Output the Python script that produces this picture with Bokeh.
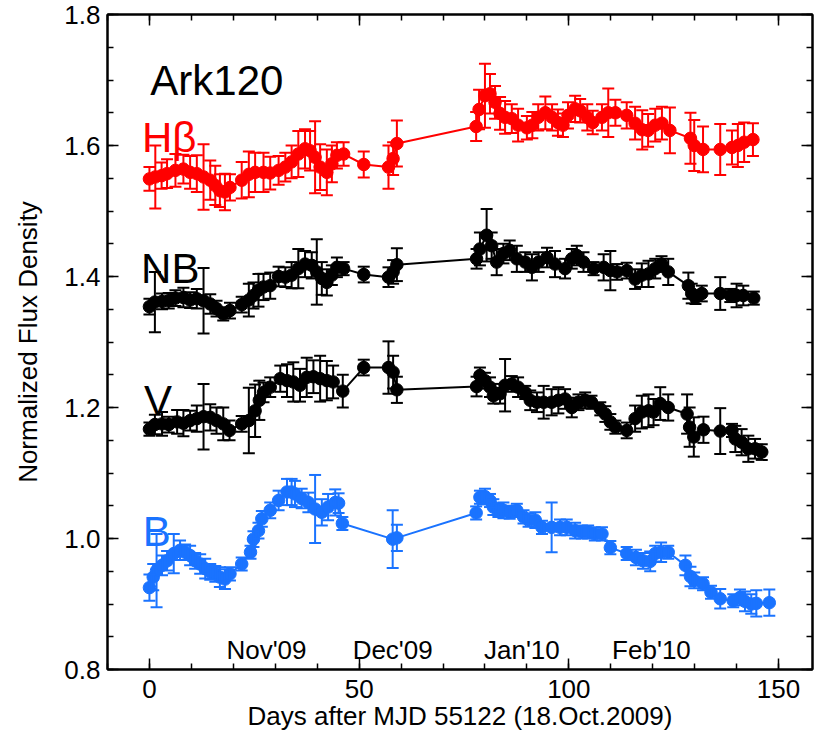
import numpy as np
from bokeh.plotting import figure
from bokeh.models import (ColumnDataSource, Whisker, TeeHead, LinearAxis,
                          SingleIntervalTicker, Range1d, PrintfTickFormatter,
                          CustomJSTickFormatter)
from bokeh.core.properties import value
from bokeh.embed import file_html
from bokeh.resources import INLINE

# ---------------- data ----------------
hb_day = [0.0, 1.4, 2.9, 4.2, 6.2, 8.1, 9.7, 11.3, 12.9, 14.5, 15.7, 16.8, 18.0, 19.2,
          22.0, 23.7, 25.2, 27.2, 28.8, 30.8, 32.4, 33.9, 35.5, 37.1, 38.3, 39.5, 40.7,
          42.3, 43.5, 44.7, 46.3, 51.1, 57.0, 58.1, 59.0,
          77.9, 78.6, 80.0, 81.2, 82.4, 83.6, 84.8, 86.4, 87.9, 90.0, 91.3, 92.7, 94.4,
          96.0, 97.4, 98.6, 99.8, 101.5, 102.7, 104.4, 105.7, 107.9, 109.4, 111.1,
          113.8, 115.8, 117.5, 118.9, 120.6, 122.2, 124.1, 129.0, 129.9, 132.0, 136.1,
          138.9, 140.3, 141.8, 143.9]
hb_flux = [1.549, 1.552, 1.554, 1.557, 1.562, 1.564, 1.559, 1.557, 1.552, 1.547, 1.539,
           1.531, 1.529, 1.536, 1.547, 1.556, 1.559, 1.559, 1.558, 1.562, 1.567, 1.575,
           1.587, 1.595, 1.592, 1.582, 1.567, 1.559, 1.572, 1.585, 1.587, 1.571, 1.567,
           1.580, 1.603,
           1.629, 1.655, 1.676, 1.679, 1.666, 1.649, 1.643, 1.641, 1.631, 1.627, 1.631,
           1.643, 1.650, 1.643, 1.635, 1.631, 1.646, 1.656, 1.653, 1.643, 1.635, 1.643,
           1.650, 1.650, 1.646, 1.634, 1.624, 1.623, 1.631, 1.634, 1.623, 1.611, 1.600,
           1.594, 1.594, 1.597, 1.600, 1.605, 1.609]
hb_err = [0.018, 0.048, 0.020, 0.022, 0.025, 0.022, 0.025, 0.028, 0.050, 0.030, 0.030,
          0.025, 0.028, 0.020, 0.028, 0.035, 0.030, 0.030, 0.025, 0.022, 0.022, 0.025,
          0.035, 0.030, 0.030, 0.055, 0.035, 0.035, 0.028, 0.020, 0.018, 0.020, 0.033,
          0.025, 0.035,
          0.022, 0.030, 0.049, 0.030, 0.025, 0.025, 0.025, 0.022, 0.025, 0.018, 0.020,
          0.020, 0.025, 0.020, 0.020, 0.018, 0.020, 0.020, 0.018, 0.020, 0.018, 0.020,
          0.037, 0.020, 0.020, 0.025, 0.030, 0.025, 0.025, 0.025, 0.035, 0.039, 0.039,
          0.035, 0.039, 0.026, 0.033, 0.030, 0.025]

nb_day = [0.0, 1.3, 3.0, 4.6, 6.2, 8.1, 9.7, 11.3, 12.9, 14.5, 16.0, 17.6, 19.2, 22.0,
          23.7, 24.8, 26.0, 27.2, 28.8, 30.8, 32.4, 33.9, 35.5, 37.1, 38.7, 39.9, 41.1,
          42.3, 43.5, 44.7, 46.3, 51.1, 57.0, 58.1, 59.0,
          78.0, 78.8, 80.4, 81.6, 82.8, 84.4, 85.9, 87.6, 89.6, 91.2, 92.8, 94.8, 96.7,
          99.1, 100.7, 101.9, 103.5, 105.9, 108.3, 109.9, 111.5, 113.8, 115.8, 117.4,
          119.0, 120.6, 122.1, 123.7, 128.5, 129.3, 130.2, 131.7, 136.1, 138.5, 140.0,
          141.6, 144.1]
nb_flux = [1.354, 1.361, 1.362, 1.363, 1.367, 1.368, 1.364, 1.366, 1.363, 1.358, 1.351,
           1.343, 1.348, 1.357, 1.364, 1.371, 1.379, 1.384, 1.386, 1.400, 1.399, 1.402,
           1.412, 1.419, 1.417, 1.407, 1.397, 1.391, 1.402, 1.414, 1.412, 1.403, 1.399,
           1.407, 1.418,
           1.427, 1.442, 1.463, 1.447, 1.422, 1.435, 1.440, 1.427, 1.422, 1.414, 1.422,
           1.429, 1.419, 1.412, 1.427, 1.432, 1.422, 1.412, 1.414, 1.409, 1.407, 1.409,
           1.396, 1.402, 1.404, 1.412, 1.419, 1.407, 1.386, 1.374, 1.368, 1.374, 1.374,
           1.371, 1.371, 1.371, 1.367]
nb_err = [0.012, 0.046, 0.012, 0.012, 0.012, 0.015, 0.012, 0.015, 0.050, 0.015, 0.012,
          0.010, 0.012, 0.012, 0.025, 0.020, 0.025, 0.020, 0.020, 0.015, 0.015, 0.020,
          0.030, 0.020, 0.020, 0.050, 0.025, 0.020, 0.015, 0.015, 0.010, 0.012, 0.015,
          0.018, 0.025,
          0.015, 0.025, 0.040, 0.020, 0.020, 0.015, 0.015, 0.020, 0.015, 0.020, 0.015,
          0.015, 0.020, 0.015, 0.015, 0.015, 0.015, 0.010, 0.020, 0.030, 0.012, 0.012,
          0.015, 0.018, 0.020, 0.015, 0.012, 0.020, 0.020, 0.015, 0.010, 0.012, 0.025,
          0.010, 0.018, 0.015, 0.010]

v_day = [0.0, 1.3, 3.0, 4.6, 6.6, 8.1, 9.7, 11.3, 12.9, 14.5, 16.0, 17.6, 19.1, 22.0,
         23.7, 25.2, 26.2, 27.2, 28.8, 31.2, 32.8, 34.3, 35.9, 37.5, 39.1, 40.7, 42.3,
         43.8, 46.1, 51.1, 57.0, 58.1, 59.0,
         78.0, 78.8, 80.0, 81.2, 82.0, 83.6, 84.8, 86.4, 87.9, 89.6, 90.8, 92.4, 94.0,
         95.9, 97.5, 99.1, 100.7, 102.3, 103.9, 105.4, 107.5, 108.7, 109.9, 111.1,
         113.8, 115.8, 117.4, 119.0, 120.2, 121.8, 123.7, 128.2, 128.8, 129.8, 132.1,
         136.1, 138.9, 139.7, 141.2, 142.8, 144.4, 146.0]
v_flux = [1.167, 1.174, 1.175, 1.174, 1.178, 1.176, 1.180, 1.183, 1.186, 1.185, 1.180,
          1.175, 1.165, 1.175, 1.180, 1.195, 1.211, 1.223, 1.231, 1.244, 1.241, 1.239,
          1.234, 1.246, 1.247, 1.244, 1.241, 1.239, 1.225, 1.261, 1.261, 1.254, 1.227,
          1.232, 1.249, 1.241, 1.231, 1.218, 1.221, 1.234, 1.236, 1.231, 1.223, 1.211,
          1.208, 1.208, 1.208, 1.211, 1.213, 1.200, 1.208, 1.211, 1.208, 1.198, 1.190,
          1.178, 1.170, 1.165, 1.183, 1.193, 1.195, 1.193, 1.206, 1.200, 1.190, 1.170,
          1.155, 1.166, 1.164, 1.165, 1.152, 1.147, 1.137, 1.137, 1.132]
v_err = [0.010, 0.015, 0.018, 0.012, 0.018, 0.020, 0.015, 0.020, 0.050, 0.020, 0.020,
         0.025, 0.015, 0.012, 0.050, 0.040, 0.030, 0.015, 0.015, 0.020, 0.025, 0.030,
         0.025, 0.030, 0.025, 0.035, 0.030, 0.025, 0.025, 0.012, 0.040, 0.025, 0.020,
         0.015, 0.012, 0.012, 0.015, 0.012, 0.015, 0.040, 0.012, 0.015, 0.010, 0.015,
         0.015, 0.025, 0.020, 0.020, 0.015, 0.015, 0.012, 0.012, 0.010, 0.010, 0.012,
         0.012, 0.010, 0.012, 0.020, 0.025, 0.025, 0.020, 0.025, 0.020, 0.030, 0.030,
         0.030, 0.020, 0.035, 0.010, 0.020, 0.020, 0.020, 0.015, 0.012]

b_day = [0.0, 0.9, 1.7, 3.0, 4.2, 5.8, 7.3, 8.5, 9.7, 10.9, 12.1, 13.3, 14.5, 15.7, 16.8,
         18.0, 19.2, 22.0, 24.1, 24.8, 26.0, 26.8, 28.8, 30.8, 32.8, 33.9, 34.7, 36.3,
         37.9, 39.5, 41.1, 42.6, 44.3, 45.1, 46.0, 58.0, 59.0,
         77.9, 78.8, 80.0, 81.2, 82.0, 83.2, 84.4, 85.9, 87.6, 89.2, 90.4, 92.0, 93.6,
         95.9, 97.9, 99.5, 101.5, 103.1, 104.6, 106.2, 107.9, 109.9, 113.8, 116.0,
         117.7, 119.4, 120.6, 122.0, 123.7, 127.8, 129.0, 129.9, 132.0, 133.9, 136.1,
         139.2, 140.8, 142.0, 143.5, 144.7, 147.8]
b_flux = [0.925, 0.941, 0.951, 0.959, 0.966, 0.977, 0.982, 0.979, 0.974, 0.966, 0.961,
          0.954, 0.949, 0.946, 0.941, 0.938, 0.946, 0.961, 0.979, 0.999, 1.012, 1.030,
          1.043, 1.058, 1.071, 1.071, 1.068, 1.061, 1.055, 1.045, 1.040, 1.048, 1.055,
          1.054, 1.023, 0.999, 1.001,
          1.039, 1.063, 1.064, 1.058, 1.048, 1.043, 1.043, 1.040, 1.043, 1.033, 1.028,
          1.028, 1.017, 1.017, 1.017, 1.017, 1.012, 1.010, 1.010, 1.007, 1.007, 0.986,
          0.977, 0.971, 0.966, 0.965, 0.977, 0.979, 0.979, 0.959, 0.942, 0.936, 0.931,
          0.918, 0.908, 0.905, 0.910, 0.904, 0.900, 0.901, 0.902]
b_err = [0.020, 0.020, 0.056, 0.015, 0.015, 0.030, 0.015, 0.012, 0.015, 0.012, 0.015,
         0.015, 0.012, 0.012, 0.015, 0.015, 0.010, 0.010, 0.010, 0.012, 0.012, 0.012,
         0.012, 0.015, 0.020, 0.020, 0.020, 0.015, 0.015, 0.052, 0.020, 0.020, 0.020,
         0.015, 0.010, 0.044, 0.020,
         0.010, 0.010, 0.012, 0.010, 0.012, 0.010, 0.012, 0.010, 0.010, 0.010, 0.010,
         0.012, 0.010, 0.038, 0.012, 0.012, 0.012, 0.010, 0.010, 0.010, 0.010, 0.010,
         0.010, 0.012, 0.012, 0.015, 0.012, 0.015, 0.010, 0.015, 0.015, 0.012, 0.010,
         0.010, 0.015, 0.010, 0.012, 0.015, 0.015, 0.020, 0.020]

month_labels = ["Nov'09", "Dec'09", "Jan'10", "Feb'10"]
month_days = [27.9, 58.0, 88.8, 119.7]

x_ticks_major = 50
y_ticks_major = 0.2

RED = "#ff0000"
BLACK = "#000000"
BLUE = "#1a73ff"
FONT = "Liberation Sans"

# ---------------- figure ----------------
p = figure(width=826, height=738, x_range=Range1d(-10, 158.1), y_range=Range1d(0.8, 1.8),
           output_backend="svg", toolbar_location=None,
           min_border_left=107, min_border_top=14, min_border_right=14, min_border_bottom=69,
           x_axis_label="Days after MJD 55122 (18.Oct.2009)",
           y_axis_label="Normalized Flux Density")
p.grid.visible = False
p.outline_line_color = "black"
p.outline_line_width = 2
p.background_fill_color = "white"
p.border_fill_color = "white"

def style_axis(ax, ticker, show_labels):
    ax.ticker = ticker
    ax.major_tick_in = 11
    ax.major_tick_out = 0
    ax.minor_tick_in = 6
    ax.minor_tick_out = 0
    ax.axis_line_color = "black"
    ax.axis_line_width = 2
    ax.major_tick_line_width = 1.5
    ax.minor_tick_line_width = 1.5
    ax.major_tick_line_color = "black"
    ax.minor_tick_line_color = "black"
    ax.major_label_text_font = FONT
    ax.major_label_text_color = "black"
    if show_labels:
        ax.major_label_text_font_size = "26px"
    else:
        ax.formatter = CustomJSTickFormatter(code="return '';")
        ax.major_label_text_font_size = "8px"
        ax.major_label_standoff = 0

xt = SingleIntervalTicker(interval=x_ticks_major, num_minor_ticks=5)
yt = SingleIntervalTicker(interval=y_ticks_major, num_minor_ticks=4)

xa = p.xaxis[0]
ya = p.yaxis[0]
style_axis(xa, xt, True)
style_axis(ya, yt, True)
xa.major_label_standoff = 10
ya.major_label_standoff = 7
ya.formatter = PrintfTickFormatter(format="%.1f")
for ax in (xa, ya):
    ax.axis_label_text_font = FONT
    ax.axis_label_text_font_size = "26px"
    ax.axis_label_text_font_style = "normal"
    ax.axis_label_text_color = "black"
xa.axis_label_standoff = 0
ya.axis_label_standoff = 18

top = LinearAxis()
style_axis(top, SingleIntervalTicker(interval=x_ticks_major, num_minor_ticks=5), False)
p.add_layout(top, "above")
right = LinearAxis()
style_axis(right, SingleIntervalTicker(interval=y_ticks_major, num_minor_ticks=4), False)
p.add_layout(right, "right")

# ---------------- series ----------------
def add_series(days, flux, err, color):
    d = np.array(days, dtype=float)
    f = np.array(flux, dtype=float)
    e = np.array(err, dtype=float)
    src = ColumnDataSource(dict(x=d, y=f, lo=f - e, hi=f + e))
    w = Whisker(source=src, base="x", upper="hi", lower="lo", dimension="height",
                line_color=color, line_width=2, level="glyph",
                upper_head=TeeHead(size=12, line_color=color, line_width=2),
                lower_head=TeeHead(size=12, line_color=color, line_width=2))
    p.add_layout(w)
    p.line("x", "y", source=src, line_color=color, line_width=2)
    p.scatter("x", "y", source=src, size=12.5, fill_color=color, line_color=color)

add_series(hb_day, hb_flux, hb_err, RED)
add_series(nb_day, nb_flux, nb_err, BLACK)
add_series(v_day, v_flux, v_err, BLACK)
add_series(b_day, b_flux, b_err, BLUE)

# ---------------- labels ----------------
big = dict(text_font=value(FONT), text_font_size="42px", text_baseline="alphabetic",
           text_align="left")
p.text(x=[0.2], y=[1.6997], text=["Ark120"], text_color="black", **big)
p.text(x=[-1.8], y=[1.6127], text=["H\u03b2"], text_color=RED, **big)
p.text(x=[-2.0], y=[1.4122], text=["NB"], text_color="black", **big)
p.text(x=[-1.3], y=[1.2111], text=["V"], text_color="black", **big)
p.text(x=[-1.6], y=[1.0100], text=["B"], text_color=BLUE, **big)

p.text(x=month_days, y=[0.8305] * len(month_days), text=month_labels,
       text_font=value(FONT), text_font_size="26px", text_color="black",
       text_align="center", text_baseline="alphabetic")

open("out.html", "w").write(file_html(p, INLINE))
